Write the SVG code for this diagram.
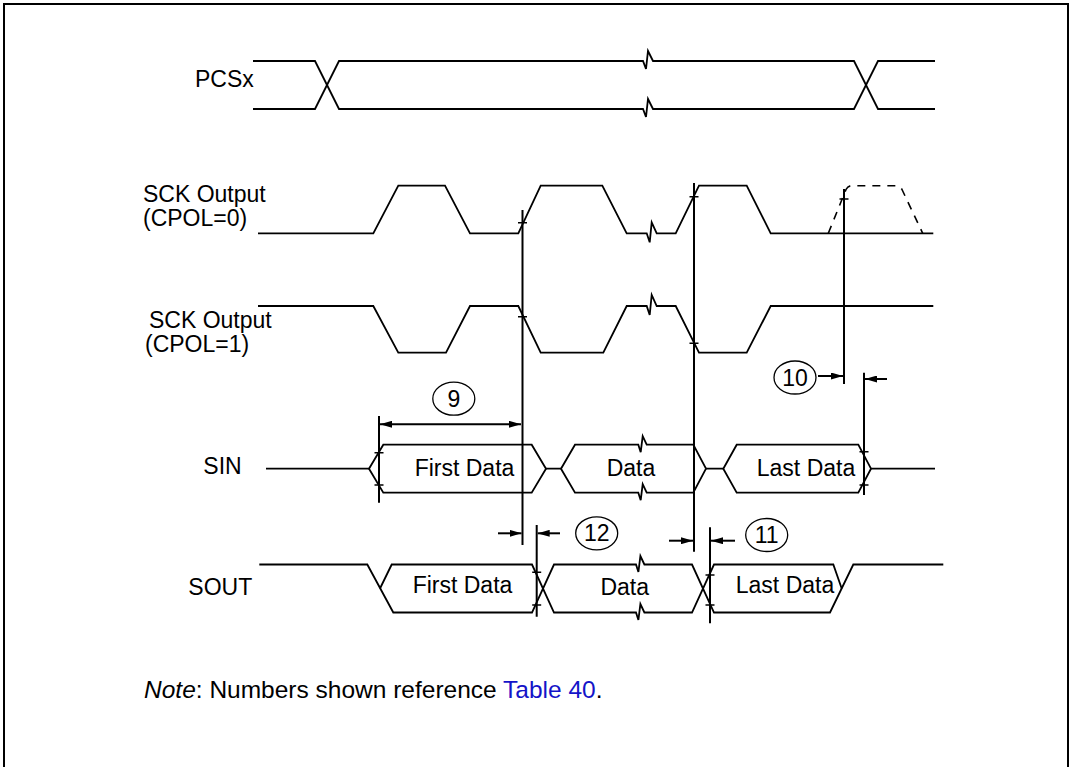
<svg xmlns="http://www.w3.org/2000/svg" width="1073" height="767" viewBox="0 0 1073 767">
<style>
  .sig { fill: none; stroke: #000; stroke-width: 1.8; stroke-linejoin: miter; }
  .vl { fill: none; stroke: #000; stroke-width: 2; }
  .tk { fill: none; stroke: #000; stroke-width: 1.5; }
  .dash { fill: none; stroke: #000; stroke-width: 1.6; stroke-dasharray: 8 7; }
  .arr { fill: none; stroke: #000; stroke-width: 2; }
  .lbl { font-family: "Liberation Sans", Arial, sans-serif; font-size: 23px; fill: #000; }
  .note { font-family: "Liberation Sans", Arial, sans-serif; font-size: 24.5px; fill: #000; }
  .mid { text-anchor: middle; }
  .circ { fill: none; stroke: #000; stroke-width: 1.3; }
  .frame { fill: none; stroke: #000; stroke-width: 2; }
</style>
<defs>
  <marker id="ah" viewBox="0 0 12 7" refX="12" refY="3.5" markerWidth="12" markerHeight="7" markerUnits="userSpaceOnUse" orient="auto-start-reverse">
    <path d="M0,0 L12,3.5 L0,7 z" fill="#000"/>
  </marker>
</defs>
<rect width="1073" height="767" fill="#fff"/>
<path class="frame" d="M4,770 V4 H1068 V770"/>

<g id="pcsx">
  <text class="lbl" x="195" y="86.5">PCSx</text>
  <path class="sig" d="M253,61 H315 L339,109 H643 l3,8 l2,-18 l5,10 H854 L878,61 H935"/>
  <path class="sig" d="M253,109 H315 L339,61 H643 l3,8 l2,-18 l5,10 H854 L878,109 H935"/>
</g>

<g id="sck0">
  <text class="lbl" x="143" y="201.5">SCK Output</text>
  <text class="lbl" x="143" y="226">(CPOL=0)</text>
  <path class="sig" d="M258,233.3 H373.3 L398.3,185.7 H445 L470,233.3 H518.3 L540.7,185.7 H602.3 L626.7,233.3 H646.7 l3,9 l2,-20 l5,11 H675.7 L699,185.7 H746.7 L770.7,233.3 H933.3"/>
  <path class="dash" d="M828.3,233.3 L846,189.5 Q848,185.7 852,185.7 H896 Q900,185.7 902,189.5 L922.7,233.3"/>
</g>

<g id="sck1">
  <text class="lbl" x="149" y="327.5">SCK Output</text>
  <text class="lbl" x="145" y="351.5">(CPOL=1)</text>
  <path class="sig" d="M258,306 H373.3 L398.3,352.7 H446 L470,306 H518.3 L540.7,352.7 H603.3 L626.7,306 H646.7 l3,9 l2,-20 l5,11 H675.7 L699,352.7 H746.7 L770.7,306 H933.3"/>
</g>

<g id="sin">
  <text class="lbl" x="203.3" y="474">SIN</text>
  <path class="sig" d="M266,468.7 H369 M546,468.7 H561 M706,468.7 H723.3 M871,468.7 H935"/>
  <path class="sig" d="M369,468.7 L383.3,444.7 H531.7 L546,468.7 L531.7,492.7 H383.3 Z"/>
  <path class="sig" d="M561,468.7 L575,444.7 H638.3 l2.4,7.5 l2,-16 l4,8.5 H693.3 L706,468.7"/>
  <path class="sig" d="M561,468.7 L575,492.7 H638.3 l2.4,7.5 l2,-16 l4,8.5 H693.3 L706,468.7"/>
  <path class="sig" d="M723.3,468.7 L736.7,444.7 H858.3 L871,468.7 L858.3,492.7 H736.7 Z"/>
  <text class="lbl mid" x="464.5" y="475.5">First Data</text>
  <text class="lbl mid" x="631" y="475.5">Data</text>
  <text class="lbl mid" x="806" y="475.5">Last Data</text>
</g>

<g id="sout">
  <text class="lbl" x="188.3" y="595">SOUT</text>
  <path class="sig" d="M259.3,564.5 H367.3 L393.3,612.5 H532 L554,564.5 H636 l2.4,7.5 l2,-16 l4,8.5 H692 L714,612.5 H830 L853.3,564.5 H943.3"/>
  <path class="sig" d="M380,588.5 L391.7,564.5 H532 L554,612.5 H636 l2.4,7.5 l2,-16 l4,8.5 H692 L714,564.5 H833.3 L841.7,588.5"/>
  <text class="lbl mid" x="462.5" y="593.3">First Data</text>
  <text class="lbl mid" x="624.7" y="595">Data</text>
  <text class="lbl mid" x="785" y="593.3">Last Data</text>
</g>

<g id="t9">
  <ellipse class="circ" cx="453.8" cy="398.7" rx="21" ry="16.5"/>
  <text class="lbl mid" x="453.8" y="406.8">9</text>
</g>
<g id="t10">
  <ellipse class="circ" cx="795" cy="377.5" rx="21" ry="16.5"/>
  <text class="lbl mid" x="795" y="385.6">10</text>
</g>
<g id="t12">
  <ellipse class="circ" cx="596.7" cy="533.3" rx="21" ry="16.5"/>
  <text class="lbl mid" x="596.7" y="541.4">12</text>
</g>
<g id="t11">
  <ellipse class="circ" cx="766.7" cy="535" rx="21" ry="16.5"/>
  <text class="lbl mid" x="766.7" y="543.1">11</text>
</g>

<g id="connectors">
  <path class="vl" d="M522.5,210 V545 M694,183 V551.7 M844,189 V384 M379,416 V502.7 M864,372.7 V495 M536.7,525 V616.7 M710,527.3 V623.3"/>
  <path class="tk" d="M518,222.7 h9 M518,316.7 h9 M689.5,196.7 h9 M689.5,343.3 h9 M839.5,199 h9 M374.5,452.7 h9 M374.5,485 h9 M859.5,451.7 h9 M859.5,485 h9 M532.2,572.3 h9 M532.2,605 h9 M705.5,575 h9 M705.5,605 h9"/>
  <path class="arr" d="M380,424.3 H521" marker-start="url(#ah)" marker-end="url(#ah)"/>
  <path class="arr" d="M818,376 H843" marker-end="url(#ah)"/>
  <path class="arr" d="M887,379 H865" marker-end="url(#ah)"/>
  <path class="arr" d="M498,533.3 H521.5" marker-end="url(#ah)"/>
  <path class="arr" d="M560,533.3 H537.7" marker-end="url(#ah)"/>
  <path class="arr" d="M669,540.7 H693" marker-end="url(#ah)"/>
  <path class="arr" d="M735,540.7 H711" marker-end="url(#ah)"/>
</g>

<g id="note">
  <text class="note" x="144" y="698"><tspan font-style="italic">Note</tspan>: Numbers shown reference <tspan fill="#1414c8">Table 40</tspan>.</text>
</g>
</svg>
